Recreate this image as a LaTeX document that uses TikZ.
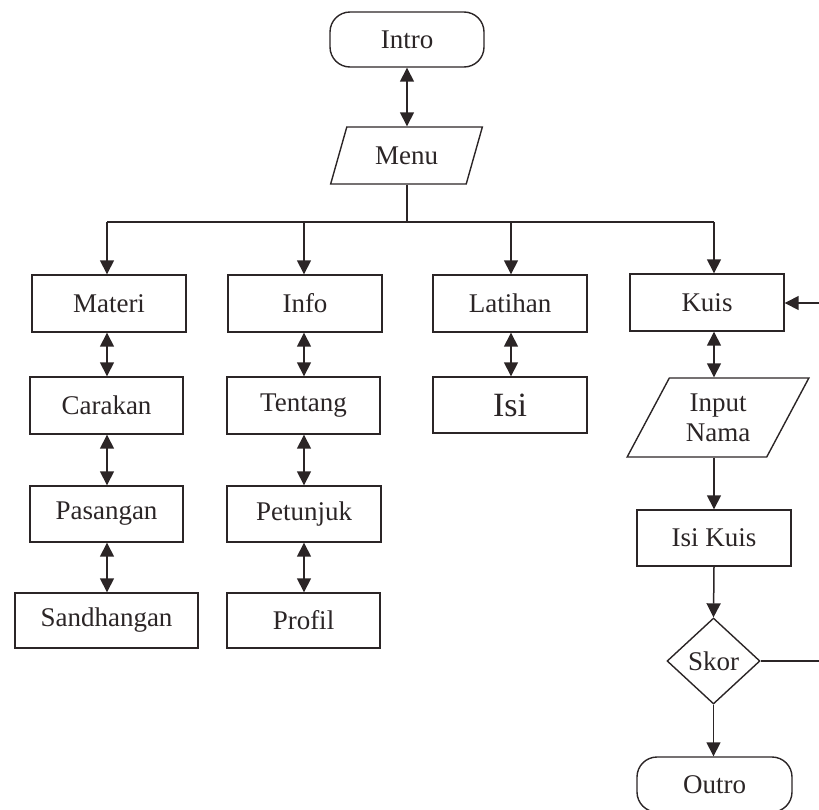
\documentclass[tikz,border=0pt]{standalone}
\usepackage{fontspec}
\setmainfont{Liberation Serif}
\usetikzlibrary{shapes.geometric,arrows.meta}
\definecolor{ink}{HTML}{2B2526}
\begin{document}
\begin{tikzpicture}[x=1pt,y=-1pt,
  every node/.style={text=ink, font=\fontsize{27}{30}\selectfont},
  boxnode/.style={draw=ink, line width=1.4pt, rectangle, inner sep=0pt, minimum height=57pt},
  termnode/.style={draw=ink, line width=1.4pt, rectangle, rounded corners=20pt, inner sep=0pt, minimum width=154pt, minimum height=55pt},
  ionode/.style={draw=ink, line width=1.4pt, trapezium, trapezium stretches=true, inner sep=0pt},
  decnode/.style={draw=ink, line width=1.4pt, diamond, inner sep=0pt, aspect=1},
  conn/.style={draw=ink, line width=1.5pt},
  arr/.style={conn, -{Triangle[length=14pt,width=14pt]}},
  darr/.style={conn, {Triangle[length=14pt,width=14pt]}-{Triangle[length=14pt,width=14pt]}}
]
\useasboundingbox (0,0) rectangle (819,809);

% top
\node[termnode] (intro) at (407,39.5) {Intro};
\node[ionode, trapezium left angle=64.6, trapezium right angle=115.4, minimum width=153pt, minimum height=57pt] (menu) at (406.5,155.5) {Menu};

% column nodes
\node[boxnode, minimum width=154pt] (materi) at (109,303.5) {Materi};
\node[boxnode, minimum width=153pt] (carakan) at (106.5,405.5) {Carakan};
\node[boxnode, minimum width=153pt, minimum height=56pt] (pasangan) at (106.5,514) {Pasangan};
\node[boxnode, minimum width=183pt, minimum height=55pt] (sandhangan) at (106.5,620.5) {Sandhangan};

\node[boxnode, minimum width=154pt] (info) at (305,303.5) {Info};
\node[boxnode, minimum width=153pt] (tentang) at (303.5,405.5) {Tentang};
\node[boxnode, minimum width=154pt, minimum height=56pt] (petunjuk) at (304,514) {Petunjuk};
\node[boxnode, minimum width=153pt, minimum height=55pt] (profil) at (303.5,620.5) {Profil};

\node[boxnode, minimum width=154pt] (latihan) at (510,303.5) {Latihan};
\node[boxnode, minimum width=154pt, minimum height=56pt, font=\fontsize{34}{36}\selectfont] (isi) at (510,405) {Isi};

\node[boxnode, minimum width=154pt] (kuis) at (707,302.5) {Kuis};
\node[ionode, trapezium left angle=59.8, trapezium right angle=120.2, minimum width=182pt, minimum height=79pt, align=center] (input) at (718,417.5) {Input\\Nama};
\node[boxnode, minimum width=154pt, minimum height=56pt] (isikuis) at (714,538) {Isi Kuis};
\node[decnode, minimum width=93pt, minimum height=86pt] (skor) at (713.5,661) {Skor};
\node[termnode, minimum width=155pt] (outro) at (714.5,784.5) {Outro};

% coordinates
\coordinate (busL) at (107,222);
\coordinate (busR) at (714,222);
\coordinate (bus2) at (304,222);
\coordinate (bus3) at (511,222);
\coordinate (menubus) at (407,222);
\coordinate (fbA) at (826,661);
\coordinate (fbB) at (826,303);

% connectors
\draw[darr] (intro.south -| 407,0) -- (menu.north -| 407,0);
\draw[conn] (menu.south -| menubus) -- (menubus);
\draw[conn] (busL) -- (busR);
\draw[arr] (busL) -- (busL |- materi.north);
\draw[arr] (bus2) -- (bus2 |- info.north);
\draw[arr] (bus3) -- (bus3 |- latihan.north);
\draw[arr] (busR) -- (busR |- kuis.north);

\draw[darr] (materi.south -| busL) -- (carakan.north -| busL);
\draw[darr] (carakan.south -| busL) -- (pasangan.north -| busL);
\draw[darr] (pasangan.south -| busL) -- (sandhangan.north -| busL);

\draw[darr] (info.south -| bus2) -- (tentang.north -| bus2);
\draw[darr] (tentang.south -| bus2) -- (petunjuk.north -| bus2);
\draw[darr] (petunjuk.south -| bus2) -- (profil.north -| bus2);

\draw[darr] (latihan.south -| bus3) -- (isi.north -| bus3);

\draw[darr] (kuis.south -| busR) -- (input.north -| busR);
\draw[arr] (input.south -| busR) -- (isikuis.north -| busR);
\draw[arr] (isikuis.south -| busR) -- (skor.north);
\draw[arr] (skor.south) -- (outro.north -| skor.south);
\draw[arr] (skor.east) -- (fbA) -- (fbB) -- (kuis.east |- fbB);
\end{tikzpicture}
\end{document}
